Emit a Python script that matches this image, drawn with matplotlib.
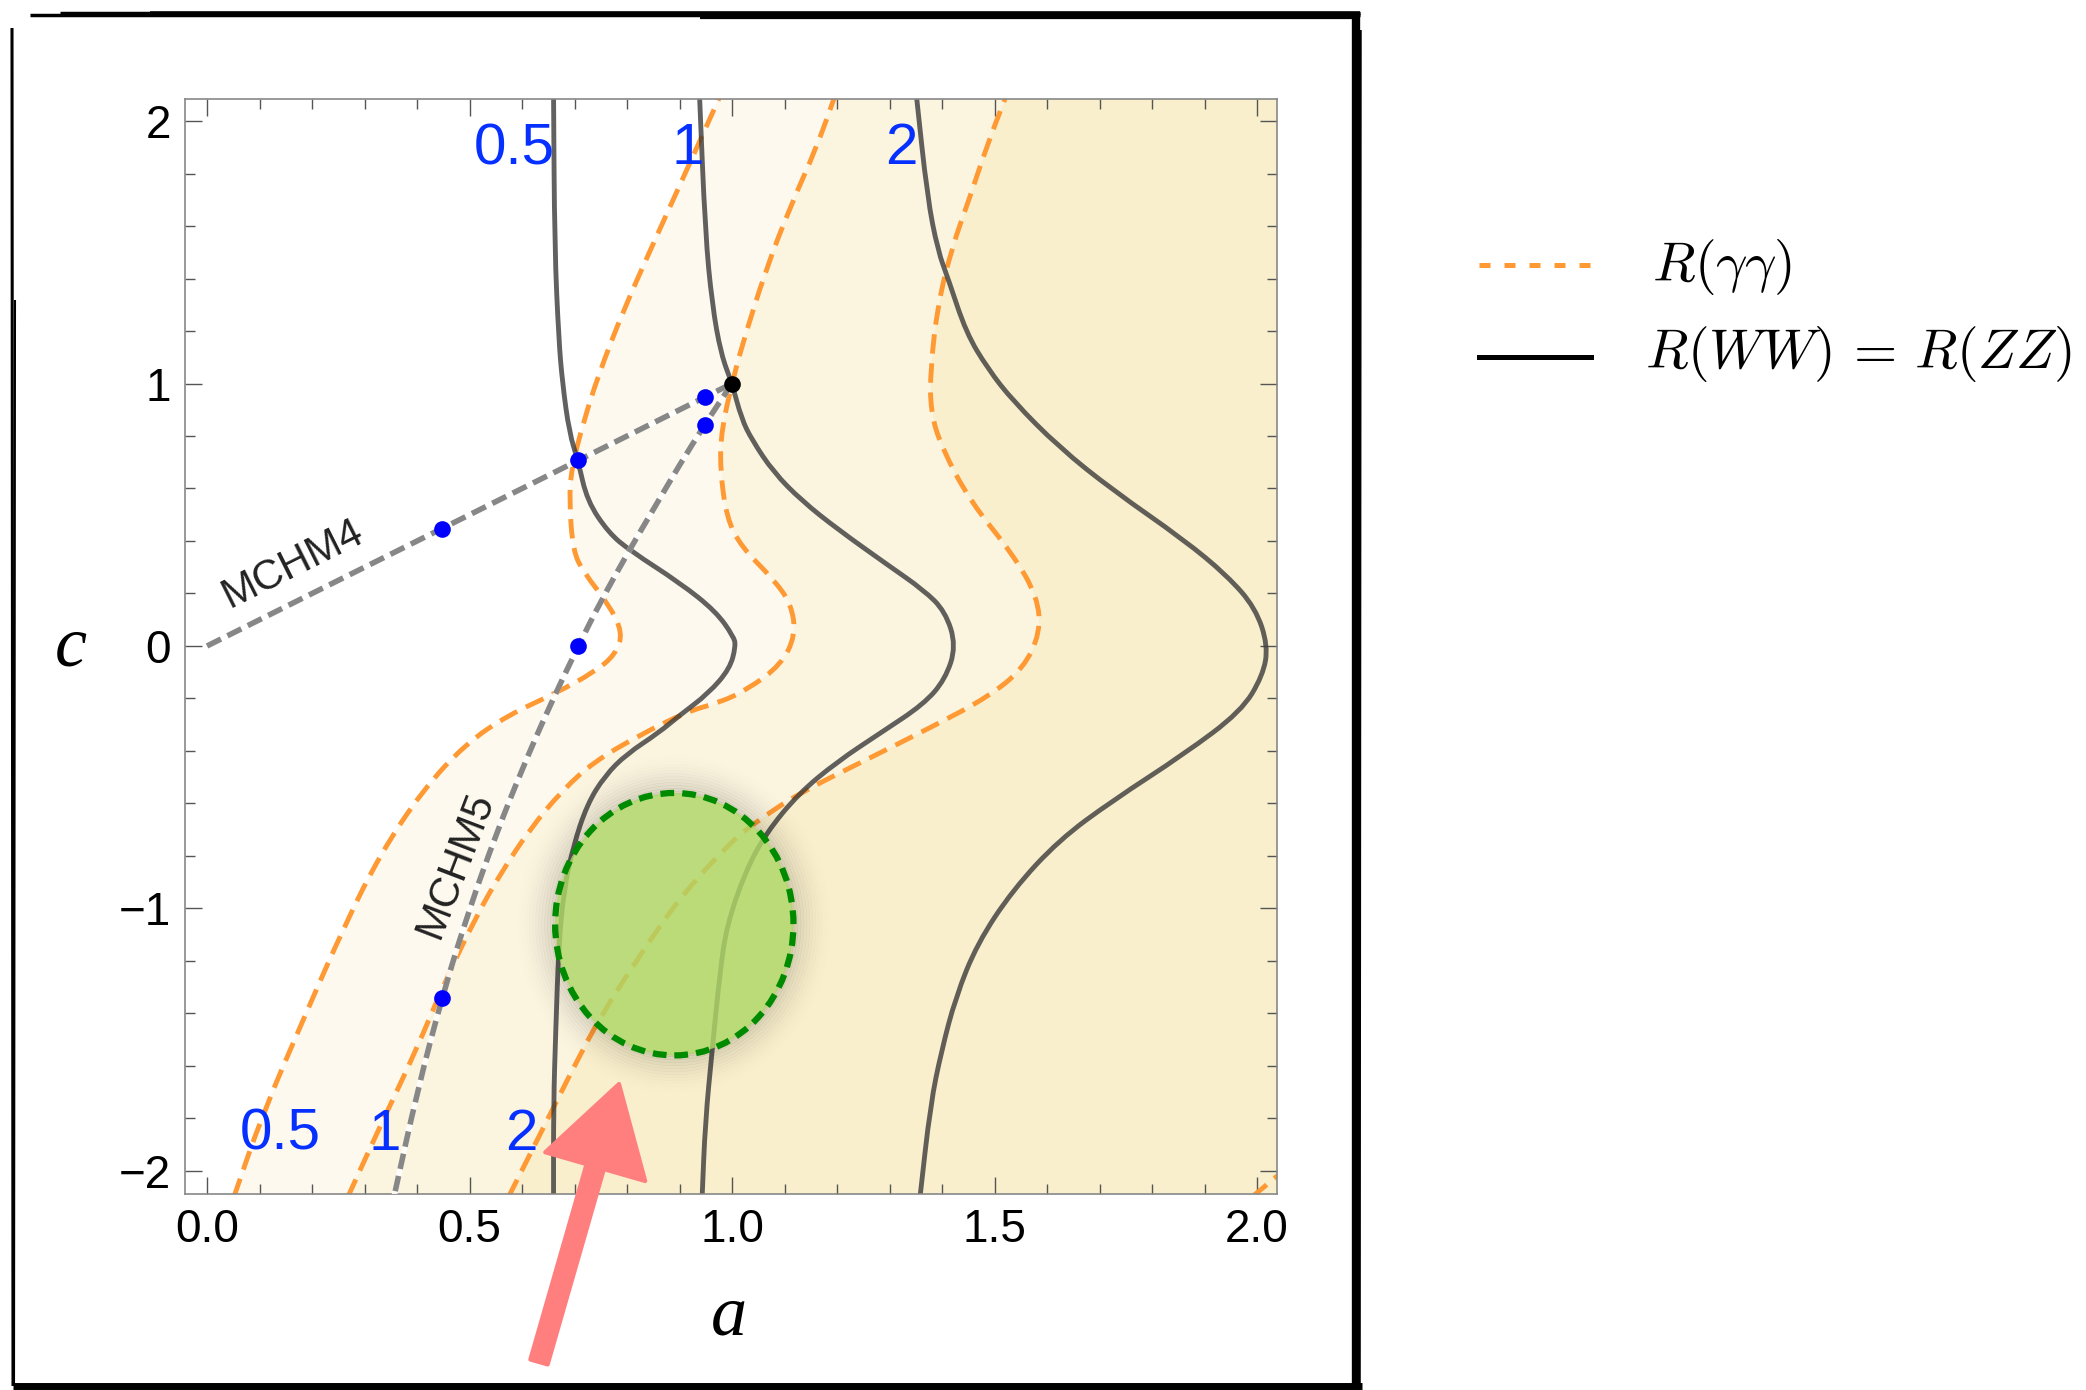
"""
R(gamma gamma) and R(WW) contours in the (a, c) plane, MCHM4 / MCHM5 lines
"""

import numpy as np
import matplotlib
matplotlib.use("Agg")
import matplotlib.pyplot as plt
from matplotlib.patches import Ellipse, FancyArrow, PathPatch
from matplotlib.path import Path
from matplotlib.lines import Line2D

plt.rcParams["font.family"] = ["Liberation Sans", "DejaVu Sans"]
plt.rcParams["mathtext.fontset"] = "cm"

# Contour curves, (a, c) from bottom to top

ww05_a = [0.660, 0.660, 0.664, 0.670, 0.680, 0.697, 0.724, 0.758, 0.799, 0.860, 0.901,
          0.955, 0.996, 1.007, 1.003, 0.969, 0.901, 0.806, 0.765, 0.724, 0.707, 0.690,
          0.677, 0.670, 0.662, 0.660]
ww05_c = [-2.10, -1.746, -1.474, -1.134, -0.929, -0.766, -0.603, -0.494, -0.412, -0.331, -0.263,
          -0.181, -0.086, 0.0, 0.036, 0.132, 0.240, 0.363, 0.431, 0.553, 0.703, 0.812,
          1.002, 1.166, 1.520, 2.10]

ww1_a = [0.943, 0.949, 0.962, 0.977, 0.990, 1.025, 1.065, 1.127, 1.201, 1.283, 1.365, 1.406,
         1.427, 1.406, 1.365, 1.297, 1.201, 1.133, 1.079, 1.038, 1.018, 1.000, 0.979, 0.962,
         0.949, 0.938]
ww1_c = [-2.10, -1.814, -1.542, -1.242, -1.065, -0.861, -0.712, -0.562, -0.440, -0.331, -0.222, -0.127,
         0.0, 0.132, 0.213, 0.308, 0.445, 0.553, 0.662, 0.785, 0.866, 1.0, 1.111, 1.302,
         1.574, 2.10]

ww2_a = [1.358, 1.378, 1.399, 1.426, 1.467, 1.535, 1.623, 1.725, 1.861, 1.970, 2.011, 2.021,
         1.997, 1.943, 1.861, 1.725, 1.623, 1.535, 1.487, 1.446, 1.412, 1.392, 1.372, 1.351]
ww2_c = [-2.10, -1.746, -1.542, -1.338, -1.134, -0.929, -0.739, -0.589, -0.412, -0.249, -0.113, 0.0,
         0.145, 0.268, 0.404, 0.594, 0.757, 0.934, 1.057, 1.193, 1.397, 1.506, 1.710, 2.10]

gg05_a = [0.051, 0.105, 0.187, 0.262, 0.330, 0.411, 0.493, 0.574, 0.663, 0.738, 0.778, 0.792,
          0.765, 0.717, 0.697, 0.690, 0.694, 0.717, 0.745, 0.792, 0.853, 0.921, 0.976]
gg05_c = [-2.10, -1.787, -1.406, -1.065, -0.793, -0.549, -0.372, -0.263, -0.181, -0.099, -0.032, 0.050,
          0.159, 0.281, 0.363, 0.553, 0.676, 0.853, 1.030, 1.274, 1.547, 1.846, 2.09]

gg1_a = [0.268, 0.330, 0.398, 0.452, 0.514, 0.561, 0.615, 0.677, 0.738, 0.820, 0.915, 0.977,
         1.030, 1.093, 1.121, 1.113, 1.079, 1.018, 0.990, 0.977, 0.980, 1.000, 1.018, 1.065,
         1.113, 1.161, 1.195]
gg1_c = [-2.10, -1.828, -1.542, -1.283, -1.025, -0.861, -0.698, -0.549, -0.440, -0.344, -0.249, -0.215,
         -0.165, -0.072, 0.040, 0.159, 0.254, 0.377, 0.485, 0.676, 0.826, 1.0, 1.138, 1.438,
         1.683, 1.900, 2.09]

gg2_a = [0.574, 0.629, 0.697, 0.751, 0.826, 0.901, 0.996, 1.045, 1.127, 1.249, 1.385, 1.487,
         1.555, 1.587, 1.582, 1.535, 1.453, 1.399, 1.378, 1.378, 1.392, 1.419, 1.453, 1.487, 1.521]
gg2_c = [-2.10, -1.882, -1.610, -1.406, -1.174, -0.957, -0.750, -0.671, -0.562, -0.440, -0.304, -0.195,
         -0.086, 0.050, 0.186, 0.349, 0.553, 0.757, 0.894, 1.057, 1.302, 1.519, 1.710, 1.914, 2.09]

gg5_a = [1.99, 2.05]
gg5_c = [-2.10, -2.00]

# Composite Higgs benchmark lines and points

mchm4_a = [0.0, 1.0]
mchm4_c = [0.0, 1.0]
mchm5_a = [1.0, 0.95, 0.90, 0.85, 0.80, 0.75, 0.707, 0.65, 0.60, 0.55, 0.50, 0.45, 0.40, 0.357]
mchm5_c = [1.0, 0.85, 0.69, 0.52, 0.35, 0.17, 0.0, -0.24, -0.47, -0.72, -1.0, -1.32, -1.70, -2.09]

pts_a = [0.447, 0.707, 0.949, 0.949, 0.707, 0.447]
pts_c = [0.447, 0.707, 0.949, 0.843, 0.0, -1.342]
sm_a, sm_c = 1.0, 1.0

fit_center = (0.89, -1.06)
fit_width, fit_height = 0.454, 1.0

xticks = [0.0, 0.5, 1.0, 1.5, 2.0]
xticklabels = ["0.0", "0.5", "1.0", "1.5", "2.0"]
yticks = [-2, -1, 0, 1, 2]
yticklabels = ["\u22122", "\u22121", "0", "1", "2"]

top_labels = ["0.5", "1", "2"]
top_label_a = [0.586, 0.916, 1.322]
bottom_labels = ["0.5", "1", "2"]
bottom_label_a = [0.140, 0.338, 0.598]


def smooth_path(xs, ys):
    # quadratic bezier through the midpoints, the read points act as control points
    pts = np.column_stack([xs, ys])
    verts = [pts[0], (pts[0] + pts[1]) / 2]
    codes = [Path.MOVETO, Path.LINETO]
    for i in range(1, len(pts) - 1):
        verts += [pts[i], (pts[i] + pts[i + 1]) / 2]
        codes += [Path.CURVE3, Path.CURVE3]
    verts.append(pts[-1])
    codes.append(Path.LINETO)
    return Path(verts, codes)


def band(xs_left, ys_left, xs_right, ys_right):
    p1 = smooth_path(xs_left, ys_left)
    p2 = smooth_path(xs_right[::-1], ys_right[::-1])
    verts = np.vstack([p1.vertices, p2.vertices, p1.vertices[:1]])
    codes = list(p1.codes) + [Path.LINETO] + list(p2.codes[1:]) + [Path.CLOSEPOLY]
    return Path(verts, codes)


# Figure

W, H = 2086, 1390
fig = plt.figure(figsize=(W / 100, H / 100), dpi=100)
fig.patch.set_facecolor("white")
ax = fig.add_axes([185 / W, 1 - 1194 / H, 1092 / W, 1095 / H])
ax.set_xlim(-0.042, 2.038)
ax.set_ylim(-2.088, 2.084)

# shaded bands between the R(gamma gamma) contours
ax.add_patch(PathPatch(band(gg05_a, gg05_c, gg1_a, gg1_c), facecolor="#FDF9EE", lw=0, zorder=0))
ax.add_patch(PathPatch(band(gg1_a, gg1_c, gg2_a, gg2_c), facecolor="#FBF4DF", lw=0, zorder=0))
ax.add_patch(PathPatch(band(gg2_a, gg2_c, [2.3, 2.3], [-2.10, 2.09]),
                       facecolor="#F9EFCC", lw=0, zorder=0))

orange = "#FF9933"
for xa, yc in [(gg05_a, gg05_c), (gg1_a, gg1_c), (gg2_a, gg2_c), (gg5_a, gg5_c)]:
    ax.add_patch(PathPatch(smooth_path(xa, yc), fill=False, edgecolor=orange, lw=3.5,
                           linestyle=(0, (4.0, 2.0)), zorder=2))

for xa, yc in [(ww05_a, ww05_c), (ww1_a, ww1_c), (ww2_a, ww2_c)]:
    ax.add_patch(PathPatch(smooth_path(xa, yc), fill=False, edgecolor="#3a3a3a", alpha=0.8,
                           lw=3.5, zorder=2))

for xa, yc in [(mchm4_a, mchm4_c), (mchm5_a, mchm5_c)]:
    ax.add_patch(PathPatch(smooth_path(xa, yc), fill=False, edgecolor="white", alpha=0.9,
                           lw=4.0, zorder=3))
    ax.add_patch(PathPatch(smooth_path(xa, yc), fill=False, edgecolor="#7a7a7a", alpha=0.9,
                           lw=4.0, linestyle=(0, (2.8, 1.3)), capstyle="butt", zorder=3))

ax.plot(pts_a, pts_c, "o", color="#0000FF", ms=12, mec="none", zorder=4)
ax.plot([sm_a], [sm_c], "o", color="black", ms=12, mec="none", zorder=4)

ax.text(0.164, 0.312, "MCHM4", rotation=26.6, fontsize=30, color="#222222",
        ha="center", va="center", zorder=4)
ax.text(0.474, -0.834, "MCHM5", rotation=69, fontsize=30, color="#222222",
        ha="center", va="center", zorder=4)

for lab, xa in zip(top_labels, top_label_a):
    ax.text(xa, 1.893, lab, fontsize=42, color="#0530FF", ha="center", va="center", zorder=4)
for lab, xa in zip(bottom_labels, bottom_label_a):
    ax.text(xa, -1.862, lab, fontsize=42, color="#0530FF", ha="center", va="center", zorder=4)

# fit ellipse with a soft halo
for d in range(0, 42, 3):
    halo = Ellipse(fit_center, fit_width + 2 * d / 525, fit_height + 2 * d / 262.5,
                   fill=False, edgecolor="black", lw=2.4,
                   alpha=0.14 * (1 - d / 42) ** 2, zorder=5)
    ax.add_patch(halo)
ax.add_patch(Ellipse(fit_center, fit_width, fit_height, facecolor="#AED666",
                     edgecolor="none", alpha=0.82, zorder=5))
ax.add_patch(Ellipse(fit_center, fit_width, fit_height, fill=False, edgecolor="#008A00",
                     lw=4.5, linestyle=(0, (2.2, 1.3)), zorder=6))

# frame and ticks
for sp in ax.spines.values():
    sp.set_color("#888888")
    sp.set_linewidth(1.2)
ax.set_xticks(xticks)
ax.set_xticklabels(xticklabels)
ax.set_yticks(yticks)
ax.set_yticklabels(yticklabels)
ax.set_xticks(np.arange(0, 2.01, 0.1), minor=True)
ax.set_yticks(np.arange(-2, 2.01, 0.2), minor=True)
ax.tick_params(which="both", direction="in", top=True, right=True,
               color="#555555", width=1.0, labelcolor="black")
ax.tick_params(which="major", length=12, labelsize=33)
ax.tick_params(which="minor", length=7)
ax.tick_params(axis="y", pad=10)
ax.tick_params(axis="x", pad=10)

fig.text(71 / W, 1 - 648 / H, "c", family="Liberation Serif", style="italic",
         fontsize=52, ha="center", va="center")
fig.text(729 / W, 1 - 1317 / H, "a", family="Liberation Serif", style="italic",
         fontsize=52, ha="center", va="center")

# legend
fig.add_artist(Line2D([1479 / W, 1591 / W], [1 - 265 / H] * 2, color=orange, lw=3.6,
                      dashes=(2.2, 2.8)))
fig.add_artist(Line2D([1479 / W, 1591 / W], [1 - 357 / H] * 2, color="black", lw=3.6))
fig.text(1652 / W, 1 - 267 / H, r"$R(\gamma\gamma)$", fontsize=40, ha="left", va="center")
fig.text(1645 / W, 1 - 354 / H, r"$R(WW)\,=\,R(ZZ)$", fontsize=40, ha="left", va="center")

# pink arrow pointing at the fit region
arrow = FancyArrow(5.39, 0.28, 0.80, 2.78, width=0.18, head_width=1.04, head_length=0.86,
                   length_includes_head=True, transform=fig.dpi_scale_trans,
                   facecolor="#FF7F7F", edgecolor="#FF7F7F", lw=3, joinstyle="round",
                   zorder=10)
fig.add_artist(arrow)

# hand drawn border (pixel coords from the top left)
strokes = [
    ((30, 15), (1360, 15), 2.5),
    ((60, 13), (1360, 13), 2.5),
    ((150, 14), (1360, 14), 4.0),
    ((700, 16), (1360, 16), 4.5),
    ((12, 28), (13, 1386), 2.2),
    ((15, 300), (14, 1386), 1.5),
    ((1356, 12), (1356, 1388), 6.0),
    ((1360, 30), (1359, 1384), 2.5),
    ((13, 1386), (1362, 1386), 5.0),
    ((200, 1388), (1360, 1389), 2.5),
]
for (x0, y0), (x1, y1), lw in strokes:
    fig.add_artist(Line2D([x0 / W, x1 / W], [1 - y0 / H, 1 - y1 / H], color="black",
                          lw=lw, solid_capstyle="butt"))

fig.savefig("out.png", dpi=100)
